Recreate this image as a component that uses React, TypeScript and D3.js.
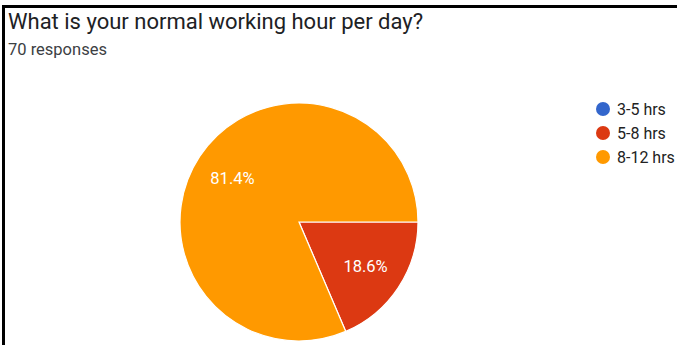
import React, { useEffect, useRef } from "react";
import * as d3 from "d3";

const categories = ["3-5 hrs", "5-8 hrs", "8-12 hrs"];
const counts = [0, 13, 57];
const colors = ["#3366CC", "#DC3912", "#FF9900"];
const title = "What is your normal working hour per day?";
const subtitle = "70 responses";

export default function App() {
  const ref = useRef<SVGSVGElement>(null);
  useEffect(() => {
    const svg = d3.select(ref.current);
    svg.selectAll("*").remove();
    const W = 677, H = 345;
    svg.append("rect").attr("width", W).attr("height", H).attr("fill", "#fff");
    // border
    svg.append("line").attr("x1", 2).attr("x2", W).attr("y1", 6.5).attr("y2", 6.5).attr("stroke", "#000").attr("stroke-width", 3);
    svg.append("line").attr("x1", 3.5).attr("x2", 3.5).attr("y1", 5).attr("y2", H).attr("stroke", "#000").attr("stroke-width", 3);

    svg.append("text").attr("x", 8).attr("y", 29).text(title)
      .attr("font-family", "Roboto").attr("font-size", 22).attr("fill", "#202124");
    svg.append("text").attr("x", 8).attr("y", 55).text(subtitle)
      .attr("font-family", "Roboto").attr("font-size", 16.5).attr("fill", "#3c4043");

    const cx = 299, cy = 222, r = 119;
    const total = d3.sum(counts);
    const pie = d3.pie<number>().sort(null).value(d => d)
      .startAngle(Math.PI / 2).endAngle(Math.PI / 2 + 2 * Math.PI);
    const arcs = pie(counts);
    const arc = d3.arc<d3.PieArcDatum<number>>().innerRadius(0).outerRadius(r);
    const g = svg.append("g").attr("transform", `translate(${cx},${cy})`);
    g.selectAll("path").data(arcs.filter(a => a.value > 0)).join("path")
      .attr("d", arc as any)
      .attr("fill", d => colors[d.index])
      .attr("stroke", "#fff").attr("stroke-width", 1.2);
    const labelArc = d3.arc<d3.PieArcDatum<number>>().innerRadius(r * 0.67).outerRadius(r * 0.67);
    g.selectAll("text").data(arcs.filter(a => a.value > 0)).join("text")
      .attr("transform", d => { const [x, y] = labelArc.centroid(d); return `translate(${x},${y})`; })
      .attr("text-anchor", "middle").attr("dy", "0.36em")
      .attr("font-family", "Roboto").attr("font-size", 16.5).attr("fill", "#fff")
      .text(d => ((d.value / total) * 100).toFixed(1) + "%");

    const lg = svg.append("g");
    categories.forEach((c, i) => {
      const y = 109 + i * 24;
      lg.append("circle").attr("cx", 603).attr("cy", y).attr("r", 7).attr("fill", colors[i]);
      lg.append("text").attr("x", 617).attr("y", y).attr("dy", "0.36em").text(c)
        .attr("font-family", "Roboto").attr("font-size", 16).attr("fill", "#222");
    });
  }, []);
  return <svg ref={ref} width={677} height={345} style={{ display: "block", position: "absolute", left: 0, top: 0 }} />;
}
